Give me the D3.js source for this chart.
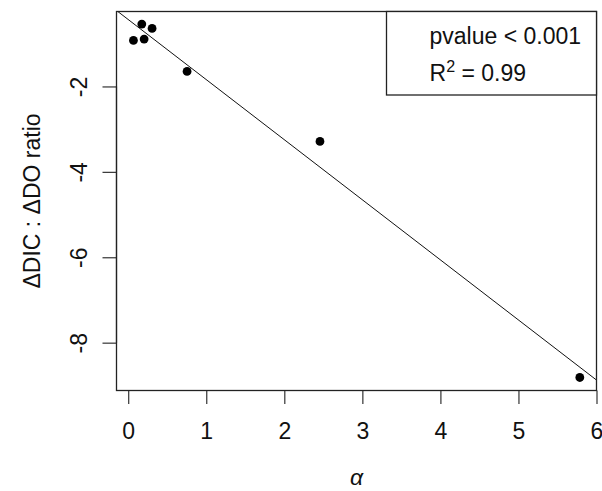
<!DOCTYPE html>
<html>
<head>
<meta charset="utf-8">
<script src="https://cdn.jsdelivr.net/npm/d3@7/dist/d3.min.js"></script>
<style>
  html, body { margin: 0; padding: 0; background: #fff; }
  svg { display: block; }
  text { font-family: "Liberation Sans", Arial, sans-serif; fill: #111; }
</style>
</head>
<body>
<svg id="chart" width="602" height="491"></svg>
<script>
// Observations: alpha vs ΔDIC:ΔDO ratio
const alphaValues = [0.067, 0.174, 0.204, 0.306, 0.754, 2.457, 5.786];
const ratioValues = [-0.923, -0.539, -0.890, -0.642, -1.649, -3.288, -8.815];

// Axis ticks and fit statistics
const xTicks = [0, 1, 2, 3, 4, 5, 6];
const yTicks = [-2, -4, -6, -8];
const statsLines = ["pvalue < 0.001", "R2 = 0.99"];

const W = 602, H = 491;
const plot = { left: 116.5, right: 596.5, top: 11.5, bottom: 390.5 };
const FONT = 23;

const svg = d3.select("#chart");

const x = d3.scaleLinear().domain([-0.15, 6]).range([plot.left, plot.right]);
const y = d3.scaleLinear().domain([-9.12, -0.245]).range([plot.bottom, plot.top]);

// Least-squares regression through the observations
const n = alphaValues.length;
const mx = d3.mean(alphaValues), my = d3.mean(ratioValues);
let sxy = 0, sxx = 0;
for (let i = 0; i < n; i++) {
  sxy += (alphaValues[i] - mx) * (ratioValues[i] - my);
  sxx += (alphaValues[i] - mx) ** 2;
}
const slope = sxy / sxx;
const intercept = my - slope * mx;

// Clip region for the fitted line
svg.append("defs").append("clipPath").attr("id", "plotClip")
  .append("rect")
  .attr("x", plot.left).attr("y", plot.top)
  .attr("width", plot.right - plot.left).attr("height", plot.bottom - plot.top);

const xDom = x.domain();
svg.append("line")
  .attr("clip-path", "url(#plotClip)")
  .attr("x1", x(xDom[0])).attr("y1", y(intercept + slope * xDom[0]))
  .attr("x2", x(xDom[1])).attr("y2", y(intercept + slope * xDom[1]))
  .attr("stroke", "#111").attr("stroke-width", 1);

// Points
svg.append("g").selectAll("circle")
  .data(alphaValues.map((a, i) => ({ a, r: ratioValues[i] })))
  .join("circle")
  .attr("cx", d => x(d.a))
  .attr("cy", d => y(d.r))
  .attr("r", 4.4)
  .attr("fill", "#000");

// Plain hyphen-minus tick labels
const plainFormat = d => String(d);

// X axis
const xAxis = d3.axisBottom(x).tickValues(xTicks).tickSize(13.5).tickPadding(0).tickFormat(plainFormat);
const gx = svg.append("g").attr("transform", `translate(0,${plot.bottom})`).call(xAxis);
gx.select(".domain").attr("d", `M${x(xTicks[0])},0H${x(xTicks[xTicks.length - 1])}`)
  .attr("stroke", "#333").attr("stroke-width", 1.2);
gx.selectAll(".tick line").attr("stroke", "#333").attr("stroke-width", 1.2);
gx.selectAll(".tick text")
  .attr("y", 48).attr("dy", null)
  .attr("font-size", FONT).attr("font-family", "Liberation Sans, Arial, sans-serif")
  .attr("fill", "#111");

// Y axis (labels parallel to the axis)
const yAxis = d3.axisLeft(y).tickValues(yTicks).tickSize(14).tickPadding(0).tickFormat(plainFormat);
const gy = svg.append("g").attr("transform", `translate(${plot.left},0)`).call(yAxis);
gy.select(".domain").attr("d", `M0,${y(yTicks[0])}V${y(yTicks[yTicks.length - 1])}`)
  .attr("stroke", "#333").attr("stroke-width", 1.2);
gy.selectAll(".tick line").attr("stroke", "#333").attr("stroke-width", 1.2);
gy.selectAll(".tick text")
  .attr("x", null).attr("dy", null)
  .attr("transform", "translate(-30,0) rotate(-90)")
  .attr("text-anchor", "middle")
  .attr("font-size", FONT).attr("font-family", "Liberation Sans, Arial, sans-serif")
  .attr("fill", "#111");

// Plot frame
svg.append("rect")
  .attr("x", plot.left).attr("y", plot.top)
  .attr("width", plot.right - plot.left).attr("height", plot.bottom - plot.top)
  .attr("fill", "none").attr("stroke", "#222").attr("stroke-width", 1.3);

// Axis titles
svg.append("text")
  .attr("x", (plot.left + plot.right) / 2).attr("y", 485)
  .attr("text-anchor", "middle")
  .attr("font-size", FONT)
  .attr("font-family", "DejaVu Serif, serif")
  .attr("font-style", "italic")
  .text("α");

svg.append("text")
  .attr("transform", `translate(40,${(plot.top + plot.bottom) / 2}) rotate(-90)`)
  .attr("text-anchor", "middle")
  .attr("font-size", FONT)
  .text("ΔDIC : ΔDO ratio");

// Statistics box in the top-right corner
const box = { x: 386.5, y: plot.top, w: plot.right - 386.5, h: 95 - plot.top };
svg.append("rect")
  .attr("x", box.x).attr("y", box.y).attr("width", box.w).attr("height", box.h)
  .attr("fill", "#fff").attr("stroke", "#222").attr("stroke-width", 1.3);

svg.append("text")
  .attr("x", 429.5).attr("y", 44.3)
  .attr("font-size", FONT)
  .text(statsLines[0]);

const r2 = svg.append("text")
  .attr("x", 429.5).attr("y", 81)
  .attr("font-size", FONT);
r2.append("tspan").text(statsLines[1].slice(0, 1));
r2.append("tspan").attr("font-size", FONT * 0.7).attr("dy", -9).text(statsLines[1].slice(1, 2));
r2.append("tspan").attr("dy", 9).text(statsLines[1].slice(2));
</script>
</body>
</html>
